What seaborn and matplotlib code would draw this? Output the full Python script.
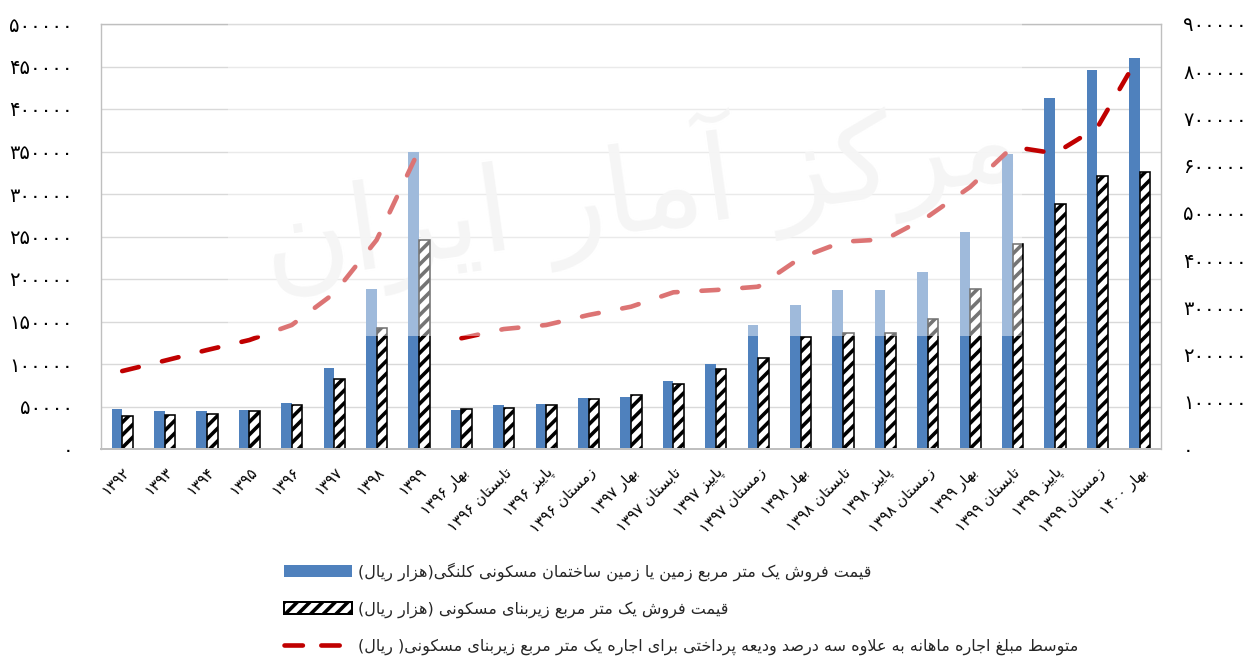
import numpy as np
import pandas as pd
import matplotlib
matplotlib.use("Agg")
import matplotlib.pyplot as plt
import matplotlib.transforms as mtransforms
import seaborn as sns
from matplotlib.patches import Patch, Rectangle
from matplotlib.lines import Line2D
from matplotlib.ticker import FuncFormatter, MultipleLocator

# ---------------------------------------------------------------- data
years = ["۱۳۹۲", "۱۳۹۳", "۱۳۹۴", "۱۳۹۵", "۱۳۹۶", "۱۳۹۷", "۱۳۹۸", "۱۳۹۹"]
quarters = [
    "بهار ۱۳۹۶", "تابستان ۱۳۹۶", "پاییز ۱۳۹۶", "زمستان ۱۳۹۶",
    "بهار ۱۳۹۷", "تابستان ۱۳۹۷", "پاییز ۱۳۹۷", "زمستان ۱۳۹۷",
    "بهار ۱۳۹۸", "تابستان ۱۳۹۸", "پاییز ۱۳۹۸", "زمستان ۱۳۹۸",
    "بهار ۱۳۹۹", "تابستان ۱۳۹۹", "پاییز ۱۳۹۹", "زمستان ۱۳۹۹",
    "بهار ۱۴۰۰",
]
periods = years + quarters

# price of one square metre of land / old residential building (thousand rials)
land_price = [47000, 44700, 44700, 46000, 54000, 95300, 188000, 349000,
              45900, 52100, 52600, 60000, 61500, 80400, 100000, 145500,
              169400, 187000, 187000, 207900, 255000, 347400, 412600, 445500,
              459700]
# price of one square metre of residential floor area (thousand rials)
unit_price = [39000, 40000, 41000, 44700, 51800, 82400, 142000, 246000,
              46700, 48200, 51400, 59200, 63100, 76500, 94500, 107000,
              131400, 136800, 136000, 153300, 188600, 241600, 287900, 321200,
              325900]
# average monthly rent + 3% of deposit per square metre (rials)
rent_annual = [165000, 187000, 209600, 230800, 262600, 329700, 442600, 633000]
rent_quarterly = [234500, 254000, 262600, 283800, 301300, 331800, 336700,
                  343700, 405000, 439000, 444000, 492000, 555000, 640000,
                  626000, 681000, 836000]

series_land = "قیمت فروش یک متر مربع زمین یا زمین ساختمان مسکونی کلنگی(هزار ریال)"
series_unit = "قیمت فروش یک متر مربع زیربنای مسکونی (هزار ریال)"
series_rent = ("متوسط مبلغ اجاره ماهانه به علاوه سه درصد ودیعه پرداختی "
               "برای اجاره یک متر مربع زیربنای مسکونی( ریال)")
watermark = "مرکز آمار ایران"

# ---------------------------------------------------------------- Persian text shaping
FORMS = {
    "ا": (0xFE8D, 0xFE8E, None, None), "آ": (0xFE81, 0xFE82, None, None),
    "ب": (0xFE8F, 0xFE90, 0xFE91, 0xFE92), "پ": (0xFB56, 0xFB57, 0xFB58, 0xFB59),
    "ت": (0xFE95, 0xFE96, 0xFE97, 0xFE98), "ث": (0xFE99, 0xFE9A, 0xFE9B, 0xFE9C),
    "ج": (0xFE9D, 0xFE9E, 0xFE9F, 0xFEA0), "چ": (0xFB7A, 0xFB7B, 0xFB7C, 0xFB7D),
    "ح": (0xFEA1, 0xFEA2, 0xFEA3, 0xFEA4), "خ": (0xFEA5, 0xFEA6, 0xFEA7, 0xFEA8),
    "د": (0xFEA9, 0xFEAA, None, None), "ذ": (0xFEAB, 0xFEAC, None, None),
    "ر": (0xFEAD, 0xFEAE, None, None), "ز": (0xFEAF, 0xFEB0, None, None),
    "ژ": (0xFB8A, 0xFB8B, None, None),
    "س": (0xFEB1, 0xFEB2, 0xFEB3, 0xFEB4), "ش": (0xFEB5, 0xFEB6, 0xFEB7, 0xFEB8),
    "ص": (0xFEB9, 0xFEBA, 0xFEBB, 0xFEBC), "ض": (0xFEBD, 0xFEBE, 0xFEBF, 0xFEC0),
    "ط": (0xFEC1, 0xFEC2, 0xFEC3, 0xFEC4), "ظ": (0xFEC5, 0xFEC6, 0xFEC7, 0xFEC8),
    "ع": (0xFEC9, 0xFECA, 0xFECB, 0xFECC), "غ": (0xFECD, 0xFECE, 0xFECF, 0xFED0),
    "ف": (0xFED1, 0xFED2, 0xFED3, 0xFED4), "ق": (0xFED5, 0xFED6, 0xFED7, 0xFED8),
    "ک": (0xFB8E, 0xFB8F, 0xFB90, 0xFB91), "گ": (0xFB92, 0xFB93, 0xFB94, 0xFB95),
    "ل": (0xFEDD, 0xFEDE, 0xFEDF, 0xFEE0), "م": (0xFEE1, 0xFEE2, 0xFEE3, 0xFEE4),
    "ن": (0xFEE5, 0xFEE6, 0xFEE7, 0xFEE8), "ه": (0xFEE9, 0xFEEA, 0xFEEB, 0xFEEC),
    "و": (0xFEED, 0xFEEE, None, None), "ی": (0xFBFC, 0xFBFD, 0xFBFE, 0xFBFF),
}
DUAL = {c for c, f in FORMS.items() if f[2] is not None}
DIGITS = set("۰۱۲۳۴۵۶۷۸۹0123456789")
MIRROR = {"(": ")", ")": "("}


def shape(s):
    out, i, n = [], 0, len(s)
    while i < n:
        c = s[i]
        prev = s[i - 1] if i > 0 else None
        if c == "ل" and i + 1 < n and s[i + 1] == "ا":
            out.append(chr(0xFEFC if prev in DUAL else 0xFEFB))
            i += 2
            continue
        if c in FORMS:
            nxt = s[i + 1] if i + 1 < n else None
            jp = prev in DUAL
            jn = c in DUAL and nxt in FORMS
            iso, fin, ini, med = FORMS[c]
            code = med if (jp and jn) else fin if jp else ini if jn else iso
            out.append(chr(code))
        else:
            out.append(c)
        i += 1
    return "".join(out)


def rtl(s):
    shaped = shape(s)
    runs = []
    for ch in shaped:
        d = ch in DIGITS
        if runs and runs[-1][0] == d:
            runs[-1][1].append(ch)
        else:
            runs.append([d, [ch]])
    out = []
    for d, chars in reversed(runs):
        if d:
            out.append("".join(chars))
        else:
            out.append("".join(MIRROR.get(c, c) for c in reversed(chars)))
    return "".join(out)


FA = str.maketrans("0123456789", "۰۱۲۳۴۵۶۷۸۹")


def fa_num(v, _pos=None):
    return str(int(round(v))).translate(FA)


# ---------------------------------------------------------------- figure
DPI = 76
W, H = 1258, 661


def pt(px):
    return px * 72.0 / DPI


BLUE = "#4F81BD"
RED = "#C00000"
FRAME = "#BFBFBF"
GRID = "#D9D9D9"

sns.set_theme(style="white")
plt.rcParams["font.family"] = ["DejaVu Sans"]
plt.rcParams["hatch.linewidth"] = pt(3.6)
plt.rcParams["hatch.color"] = "black"

fig = plt.figure(figsize=(W / DPI, H / DPI), dpi=DPI)
ax = fig.add_axes([101 / W, 1 - 449 / H, (1161 - 101) / W, (449 - 24) / H])

df = pd.DataFrame({
    "period": periods * 2,
    "series": [series_land] * len(periods) + [series_unit] * len(periods),
    "value": land_price + unit_price,
})
sns.barplot(data=df, x="period", y="value", hue="series", order=periods,
            hue_order=[series_land, series_unit], palette=[BLUE, "white"],
            saturation=1, width=0.5, legend=False, ax=ax)

for bar in ax.containers[0]:
    bar.set_edgecolor("none")
    bar.set_linewidth(0)
for bar in ax.containers[1]:
    bar.set_hatch("//")
    bar.set_edgecolor("black")
    bar.set_linewidth(pt(1.6))

ax.set_ylim(0, 500000)
ax.yaxis.set_major_locator(MultipleLocator(50000))
ax.yaxis.set_major_formatter(FuncFormatter(fa_num))
ax.set_axisbelow(True)
ax.yaxis.grid(True, color=GRID, linewidth=pt(1.4))
ax.xaxis.grid(False)
ax.set_xlabel("")
ax.set_ylabel("")
for sp in ax.spines.values():
    sp.set_visible(True)
    sp.set_color(FRAME)
    sp.set_linewidth(pt(1.4))
ax.spines["bottom"].set_linewidth(pt(2))
ax.tick_params(axis="y", length=0, pad=pt(28), labelsize=pt(19.5), labelcolor="black")
ax.tick_params(axis="x", length=0, pad=pt(21), labelsize=pt(15), labelcolor="black")

ax.set_xticks(range(len(periods)))
ax.set_xticklabels([rtl(p) for p in periods], rotation=45, ha="right",
                   va="center", rotation_mode="anchor")
shift = mtransforms.ScaledTranslation(pt(5) / 72, 0, fig.dpi_scale_trans)
for lab in ax.get_xticklabels():
    lab.set_transform(lab.get_transform() + shift)

# rent line on the secondary axis, broken between the yearly and seasonal parts
ax2 = ax.twinx()
x_years = np.arange(len(years))
x_quarters = np.arange(len(years), len(periods))
line_kw = dict(color=RED, linewidth=pt(4.6), solid_capstyle="round")
sns.lineplot(x=x_years, y=rent_annual, ax=ax2, **line_kw)
sns.lineplot(x=x_quarters, y=rent_quarterly, ax=ax2, **line_kw)
for ln in ax2.lines:
    ln.set_dashes((3.7, 5.2))
    ln.set_dash_capstyle("round")
ax2.set_ylim(0, 900000)
ax2.yaxis.set_major_locator(MultipleLocator(100000))
ax2.yaxis.set_major_formatter(FuncFormatter(fa_num))
ax2.tick_params(axis="y", length=0, pad=pt(22), labelsize=pt(19.5), labelcolor="black")
ax2.grid(False)
ax2.set_ylabel("")
for sp in ax2.spines.values():
    sp.set_visible(False)
ax.set_xlim(-0.5, len(periods) - 0.5)

# faint emblem text and the translucent panel behind it
ax.text(640 / W, 1 - 190 / H, rtl(watermark), transform=fig.transFigure,
        fontsize=pt(118), color="#ededed", ha="center", va="center",
        rotation=8, zorder=0.8, clip_on=False)
fig.add_artist(Rectangle((228 / W, 1 - 336 / H), (1022 - 228) / W, 336 / H,
                         transform=fig.transFigure, facecolor="white",
                         edgecolor="none", alpha=0.46, zorder=10))

# legend below the plot
handles = [
    Patch(facecolor=BLUE, edgecolor="none"),
    Patch(facecolor="white", edgecolor="black", hatch="//", linewidth=pt(2)),
    Line2D([], [], color=RED, linewidth=pt(4.6), dashes=(4.0, 4.0),
           dash_capstyle="round"),
]
labels = [rtl(series_land), rtl(series_unit), rtl(series_rent)]
fig.legend(handles, labels, loc="upper left",
           bbox_to_anchor=(284 / W, 1 - 562 / H), frameon=False,
           fontsize=pt(16), handlelength=68 / 16, handleheight=0.75,
           handletextpad=0.35, labelspacing=1.27, borderpad=0,
           borderaxespad=0)

fig.savefig("out.png", dpi=DPI, facecolor="white")
